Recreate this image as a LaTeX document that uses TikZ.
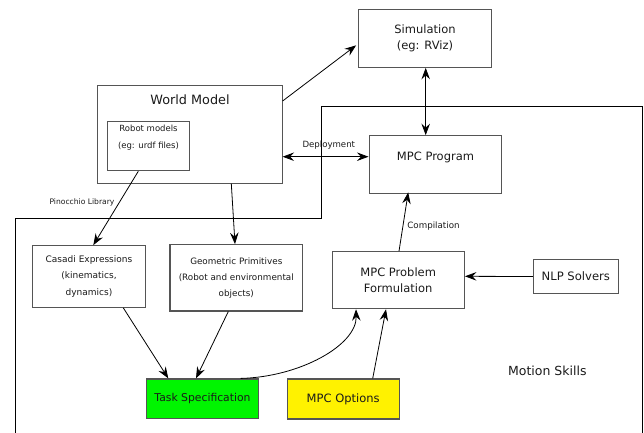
\documentclass[tikz,border=0pt]{standalone}
\usepackage{fontspec}
\setmainfont{DejaVu Sans}
\usetikzlibrary{arrows.meta,calc}
\definecolor{bordergray}{HTML}{555555}
\definecolor{txt}{HTML}{1A1A1A}
\tikzset{
  box/.style={draw=bordergray, line width=1.1pt, inner sep=0pt, text=txt, align=center},
  arr/.style={-{Stealth[length=11.5pt,width=8.5pt,inset=4pt]}, line width=0.8pt},
  darr/.style={{Stealth[length=11.5pt,width=8.5pt,inset=4pt]}-{Stealth[length=11.5pt,width=8.5pt,inset=4pt]}, line width=0.8pt},
  lbl/.style={text=txt, inner sep=0pt},
}
\begin{document}
\begin{tikzpicture}[x=1pt,y=-1pt]
\useasboundingbox (0,0) rectangle (644,432);
% Motion skills boundary
\draw[line width=0.9pt] (15,433) -- (15,218) -- (321.7,218) -- (321.7,106.5) -- (642.7,106.5) -- (642.7,433);
\node[lbl, font=\fontsize{12.5}{15}\selectfont] (motion) at (547.3,371) {Motion Skills};

% World model
\node[box, minimum width=184.7, minimum height=97.7] (world) at (189.7,134.2) {};
\node[lbl, font=\fontsize{12.8}{15}\selectfont] (worldtxt) at (190,99.4) {World Model};
\node[box, minimum width=81.6, minimum height=49.4] (robot) at (148.5,146) {};
\node[lbl, align=center, font=\fontsize{8.5}{17}\selectfont] (robottxt) at (148.5,137.5) {Robot models\\(eg: urdf files)};

% Simulation
\node[box, minimum width=132.6, minimum height=58, font=\fontsize{11.5}{16}\selectfont] (sim) at (425,38.3) {Simulation\\(eg: RViz)};

% MPC Program
\node[box, minimum width=132.3, minimum height=57.6] (prog) at (435.2,164.5) {};
\node[lbl, font=\fontsize{11.5}{14}\selectfont] (progtxt) at (435.5,157) {MPC Program};

% Casadi
\node[box, minimum width=112.6, minimum height=61.6, font=\fontsize{9}{16.3}\selectfont] (casadi) at (89,276.5) {Casadi Expressions\\(kinematics,\\dynamics)};
% Geometric
\node[box, minimum width=132.7, minimum height=66.3, font=\fontsize{8.8}{15.8}\selectfont] (geom) at (236.3,277.8) {Geometric Primitives\\(Robot and environmental\\objects)};

% Task spec
\node[box, fill={rgb,255:red,0;green,245;blue,0}, minimum width=111.6, minimum height=39.7, font=\fontsize{10.8}{13}\selectfont] (task) at (202.5,398.8) {Task Specification};
% MPC options
\node[box, fill=yellow, minimum width=111.7, minimum height=40, font=\fontsize{11.5}{13}\selectfont] (opts) at (343.2,399) {MPC Options};

% MPC Problem
\node[box, minimum width=132.3, minimum height=57, font=\fontsize{11.5}{15.7}\selectfont] (prob) at (398.2,280.2) {MPC Problem\\Formulation};
% NLP
\node[box, minimum width=85, minimum height=33.6, font=\fontsize{11.6}{14}\selectfont] (nlp) at (575.8,276.5) {NLP Solvers};

% connectors
\draw[arr] ([yshift=33.2pt]world.east) -- ([yshift=-7pt,xshift=-2pt]sim.west);
\draw[darr] ([yshift=-22.5pt]world.east) -- ([yshift=7.8pt]prog.west);
\node[lbl, font=\fontsize{8.6}{10}\selectfont] (deploy) at (328.8,145) {Deployment};
\draw[darr] ([xshift=0.7pt]sim.south) -- ([xshift=-9.5pt]prog.north);
\draw[arr] ([xshift=-10.2pt]robot.south) -- ([xshift=4.3pt]casadi.north);
\node[lbl, font=\fontsize{7.6}{9}\selectfont] (pino) at (82,202) {Pinocchio Library};
\draw[arr] ([xshift=41.6pt]world.south) -- ([xshift=-1.3pt]geom.north);
\draw[arr] ([xshift=0.8pt]prob.north) -- ([xshift=-27pt,yshift=1.5pt]prog.south);
\node[lbl, font=\fontsize{8.7}{10}\selectfont] (comp) at (433.5,225.7) {Compilation};
\draw[arr] (nlp.west) -- ([yshift=3.9pt]prob.east);
\draw[arr] ([xshift=34.3pt]casadi.south) -- ([xshift=-34.2pt]task.north);
\draw[arr] ([xshift=-8pt]geom.south) -- ([xshift=-6.5pt]task.north);
\draw[arr] ([xshift=29.5pt]opts.north) -- ([xshift=-12.2pt]prob.south);
\draw[arr] ([xshift=38.2pt]task.north) .. controls (300,377) and (357,345) .. ([xshift=-42.2pt]prob.south);
\end{tikzpicture}
\end{document}
